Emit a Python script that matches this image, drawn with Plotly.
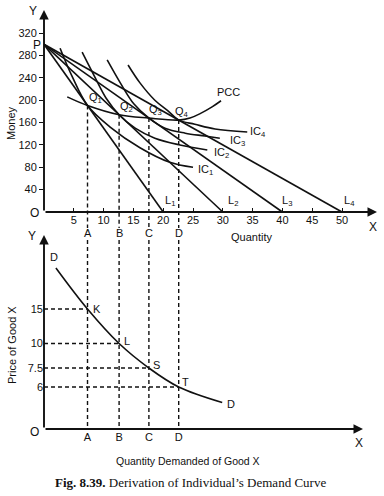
import math
import plotly.graph_objects as go

# ---------------- data ----------------
P_MONEY = 300                                   # point P on the money axis
budget_ends = [20, 30, 40, 50]                  # x-intercepts of L1..L4
budget_names = ["L<sub>1</sub>", "L<sub>2</sub>", "L<sub>3</sub>", "L<sub>4</sub>"]

q_quantity = [7.3, 12.6, 17.6, 22.6]            # tangency points Q1..Q4
q_money = [190.5, 174, 168, 164.4]
q_names = ["Q<sub>1</sub>", "Q<sub>2</sub>", "Q<sub>3</sub>", "Q<sub>4</sub>"]
q_letters = ["A", "B", "C", "D"]

ic1_x = [2.7, 4.7, 7.3, 11.1, 16.1, 21.1, 25.0]
ic1_y = [293, 243, 190.5, 152, 115, 89, 80]
ic2_x = [6.4, 8.6, 10.4, 12.6, 15.3, 18.6, 22.8, 27.4]
ic2_y = [286, 240, 204, 174, 150, 132, 120, 111]
ic3_x = [10.6, 12.8, 15.1, 17.6, 20.3, 23.7, 27.0, 29.5]
ic3_y = [272, 231, 193, 168, 150, 141, 136, 132]
ic4_x = [14.1, 16.1, 18.6, 20.8, 22.6, 25.3, 28.7, 34.1]
ic4_y = [263, 231, 200, 181, 164.4, 157, 148.5, 143]
ic_names = ["IC<sub>1</sub>", "IC<sub>2</sub>", "IC<sub>3</sub>", "IC<sub>4</sub>"]

pcc_x = [3.9, 7.3, 12.6, 17.6, 22.6, 24.5, 26.2, 28.2, 29.7]
pcc_y = [206, 190.5, 174, 168, 164.4, 168, 176, 188, 199]

prices = [15, 10, 7.5, 6]
price_tick_text = ["15", "10", "7.5", "6"]
demand_x = [2.0, 7.3, 12.6, 17.6, 22.6, 29.9]
demand_y = [24.3, 15, 10, 7.5, 6, 5.0]
demand_point_names = ["K", "L", "S", "T"]

money_ticks = [40, 80, 120, 160, 200, 240, 280, 320]
quantity_ticks = [5, 10, 15, 20, 25, 30, 35, 40, 45, 50]

# ---------------- layout geometry ----------------
W, H = 384, 496
FONT = "Liberation Sans, Arial, sans-serif"
SERIF = "Liberation Serif, Times New Roman, serif"
BLACK = "#111111"


def fx(px):
    return px / W


def fy(py):
    return 1 - py / H


OX = 44            # pixel x of both origins
TOP_OY = 212       # pixel y of top origin
XS = 5.96          # px per quantity unit
YS = 0.559         # px per money unit
BOT_OY = 429       # pixel y of bottom origin
DEC = 196          # px per decade on price axis
LOG_BOT = 0.564    # log10 price at bottom origin

top_x_range = [0, (377 - OX) / XS]
top_y_range = [(TOP_OY - 232) / YS, (TOP_OY - 10) / YS]
top_dash_end = (TOP_OY - 228) / YS
bot_x_range = [0, (363 - OX) / XS]
bot_y_range = [LOG_BOT, LOG_BOT + (BOT_OY - 235) / DEC]
bot_dash_top = 10 ** (LOG_BOT + (BOT_OY - 240) / DEC)
bot_axis_val = 10 ** LOG_BOT

fig = go.Figure()
line_w = 1.6
dash = "4px,3px"
dash_w = 1.4

# budget lines
for xe in budget_ends:
    fig.add_trace(go.Scatter(x=[0, xe], y=[P_MONEY, 0], mode="lines",
                             line=dict(color=BLACK, width=line_w),
                             xaxis="x", yaxis="y", hoverinfo="skip"))
# indifference curves
for cx, cy in [(ic1_x, ic1_y), (ic2_x, ic2_y), (ic3_x, ic3_y), (ic4_x, ic4_y)]:
    fig.add_trace(go.Scatter(x=cx, y=cy, mode="lines",
                             line=dict(color=BLACK, width=line_w, shape="spline"),
                             xaxis="x", yaxis="y", hoverinfo="skip"))
# PCC
fig.add_trace(go.Scatter(x=pcc_x, y=pcc_y, mode="lines",
                         line=dict(color=BLACK, width=line_w, shape="spline"),
                         xaxis="x", yaxis="y", hoverinfo="skip"))
# dashed drops in top chart
for qx, qy in zip(q_quantity, q_money):
    fig.add_trace(go.Scatter(x=[qx, qx], y=[qy, top_dash_end], mode="lines",
                             line=dict(color=BLACK, width=dash_w, dash=dash),
                             xaxis="x", yaxis="y", hoverinfo="skip"))

# demand curve
fig.add_trace(go.Scatter(x=demand_x, y=demand_y, mode="lines",
                         line=dict(color=BLACK, width=line_w, shape="spline"),
                         xaxis="x2", yaxis="y2", hoverinfo="skip"))
for qx, p in zip(q_quantity, prices):
    fig.add_trace(go.Scatter(x=[qx, qx], y=[bot_dash_top, bot_axis_val], mode="lines",
                             line=dict(color=BLACK, width=dash_w, dash=dash),
                             xaxis="x2", yaxis="y2", hoverinfo="skip"))
    fig.add_trace(go.Scatter(x=[0, qx], y=[p, p], mode="lines",
                             line=dict(color=BLACK, width=dash_w, dash=dash),
                             xaxis="x2", yaxis="y2", hoverinfo="skip"))

ann = []


def arrow(hx, hy, ax, ay):
    ann.append(dict(x=fx(hx), y=fy(hy), xref="paper", yref="paper",
                    ax=ax, ay=ay, axref="pixel", ayref="pixel", text="",
                    showarrow=True, arrowhead=2, arrowsize=1, arrowwidth=1.9,
                    arrowcolor=BLACK, standoff=0))


def ptext(t, px, py, size=11, angle=0, family=FONT, xanchor="center"):
    ann.append(dict(x=fx(px), y=fy(py), xref="paper", yref="paper", text=t,
                    showarrow=False, textangle=angle, xanchor=xanchor, yanchor="middle",
                    font=dict(family=family, size=size, color=BLACK)))


def dtext(t, x, y, xa="x", ya="y", xanchor="left", yanchor="middle", xs=0, ys=0, size=11):
    ann.append(dict(x=x, y=y, xref=xa, yref=ya, text=t, showarrow=False,
                    xanchor=xanchor, yanchor=yanchor, xshift=xs, yshift=ys,
                    font=dict(family=FONT, size=size, color=BLACK)))


# axes arrows
arrow(377, TOP_OY, -(377 - OX), 0)
arrow(OX, 10, 0, TOP_OY - 10)
arrow(363, BOT_OY, -(363 - OX), 0)
arrow(OX, 235, 0, BOT_OY - 235)

# top chart texts
ptext("Y", 33, 11, 12)
ptext("X", 373, 227, 12)
ptext("O", 34, 213, 12)
ptext("Money", 11, 123, 11, -90)
ptext("Quantity", 251, 237, 11)
dtext("P", 0, P_MONEY, xanchor="right", xs=-1, ys=-1, size=12)
q_dx = [-1, -1, -2, -6]
for qx, qy, name, dx in zip(q_quantity, q_money, q_names, q_dx):
    dtext(name, qx, qy, xanchor="left", xs=dx, ys=8)
l_dx = [0, 3, -2, 0]
for xe, name, dx in zip(budget_ends, budget_names, l_dx):
    dtext(name, xe, 0, xanchor="left", xs=dx, ys=11)
ic_shift = [(3, -3), (5, -3), (8, -3), (1, 0)]
for cx, cy, name, (dx, dy) in zip([ic1_x, ic2_x, ic3_x, ic4_x], [ic1_y, ic2_y, ic3_y, ic4_y],
                                  ic_names, ic_shift):
    dtext(name, cx[-1], cy[-1], xanchor="left", xs=dx, ys=dy)
dtext("PCC", pcc_x[-1], pcc_y[-1], xanchor="left", yanchor="bottom", xs=-6, ys=1)

# bottom chart texts
ptext("Y", 32, 236, 12)
ptext("O", 34, 432, 12)
ptext("X", 359, 443, 12)
ptext("Price of Good X", 12, 345, 11, -90)
ptext("Quantity Demanded of Good X", 188, 461, 10.5)
for qx, letter in zip(q_quantity, q_letters):
    ann.append(dict(x=qx, y=fy(233), xref="x2", yref="paper", text=letter,
                    showarrow=False, xanchor="center", yanchor="middle",
                    font=dict(family=FONT, size=11, color=BLACK)))
pt_shift = [(3, 0), (3, 3), (2, 3), (1, 5)]
for qx, p, name, (dx, dy) in zip(q_quantity, prices, demand_point_names, pt_shift):
    dtext(name, qx, math.log10(p), xa="x2", ya="y2", xanchor="left", xs=dx, ys=dy)
dtext("D", demand_x[0], math.log10(demand_y[0]), xa="x2", ya="y2",
      xanchor="center", yanchor="bottom", xs=-2, ys=3)
dtext("D", demand_x[-1], math.log10(demand_y[-1]), xa="x2", ya="y2",
      xanchor="left", xs=3, ys=-1)

# caption
ptext("<b>Fig. 8.39.</b> Derivation of Individual’s Demand Curve", 190, 482, 13, family=SERIF)

axis_common = dict(showgrid=False, zeroline=False, showline=False,
                   tickfont=dict(family=FONT, size=11, color=BLACK),
                   tickcolor=BLACK)

fig.update_layout(
    width=W, height=H, margin=dict(l=0, r=0, t=0, b=0),
    paper_bgcolor="white", plot_bgcolor="rgba(0,0,0,0)",
    showlegend=False,
    xaxis=dict(domain=[fx(OX), fx(377)], range=top_x_range, anchor="free",
               position=fy(TOP_OY), tickvals=quantity_ticks, ticks="inside",
               ticklen=4, tickwidth=1.2, **axis_common),
    yaxis=dict(domain=[fy(232), fy(10)], range=top_y_range, anchor="x",
               tickvals=money_ticks, ticks="outside", ticklen=4, tickwidth=1.2,
               **axis_common),
    xaxis2=dict(domain=[fx(OX), fx(363)], range=bot_x_range, anchor="y2",
                tickvals=q_quantity, ticktext=q_letters, ticks="", **axis_common),
    yaxis2=dict(domain=[fy(BOT_OY), fy(235)], range=bot_y_range, type="log",
                anchor="x2", tickvals=prices, ticktext=price_tick_text, ticks="",
                **axis_common),
    annotations=ann,
)

fig.write_html(
    "out.html",
    config={"displayModeBar": False},
    post_script="document.body.style.margin='0';document.body.style.padding='0';"
                "document.documentElement.style.overflow='hidden';",
)
